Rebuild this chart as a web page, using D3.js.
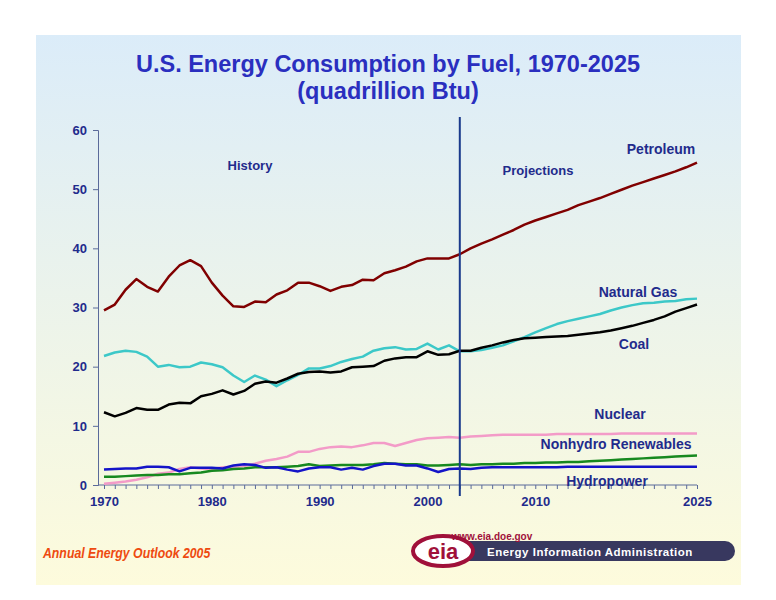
<!DOCTYPE html>
<html><head><meta charset="utf-8">
<script src="https://cdn.jsdelivr.net/npm/d3@7"></script>
<style>body{margin:0;background:#fff;font-family:"Liberation Sans",Arial,sans-serif;}</style>
</head><body>
<div id="chart"></div>
<script>
var years = d3.range(1970, 2026);
var petroleum = [29.5,30.5,33,34.8,33.5,32.7,35.2,37.1,38,37,34.2,32,30.2,30.1,31,30.9,32.2,32.9,34.2,34.2,33.6,32.8,33.5,33.8,34.7,34.6,35.8,36.3,36.9,37.8,38.3,38.3,38.3,39.0,
  40.0,40.8,41.5,42.3,43.1,44.0,44.7,45.3,45.9,46.5,47.3,47.9,48.5,49.2,49.9,50.6,51.2,51.8,52.4,53.0,53.7,54.5];
var naturalGas = [21.8,22.4,22.7,22.5,21.7,20.0,20.3,19.9,20.0,20.7,20.4,19.9,18.5,17.4,18.5,17.8,16.7,17.7,18.6,19.7,19.7,20.1,20.8,21.3,21.7,22.7,23.1,23.3,22.9,23.0,23.9,22.9,23.6,22.6,
  22.6,22.8,23.2,23.6,24.3,25.0,25.8,26.5,27.2,27.7,28.1,28.5,28.9,29.5,30.0,30.4,30.7,30.8,31.0,31.1,31.4,31.5];
var coal = [12.3,11.6,12.2,13.0,12.7,12.7,13.6,13.9,13.8,15.0,15.4,16.0,15.3,15.9,17.1,17.5,17.3,18.0,18.8,19.1,19.2,19.0,19.2,19.9,20.0,20.1,21.0,21.4,21.6,21.6,22.6,22.0,22.1,22.7,
  22.7,23.2,23.6,24.1,24.5,24.8,24.9,25.0,25.1,25.2,25.4,25.6,25.8,26.1,26.5,26.9,27.4,27.9,28.5,29.3,29.9,30.5];
var nuclear = [0.2,0.4,0.6,0.9,1.3,1.9,2.1,2.7,3.0,2.8,2.7,3.0,3.1,3.2,3.6,4.1,4.4,4.8,5.6,5.6,6.1,6.4,6.5,6.4,6.7,7.1,7.1,6.6,7.1,7.6,7.9,8.0,8.1,8.0,
  8.2,8.3,8.4,8.5,8.5,8.5,8.5,8.5,8.6,8.6,8.6,8.6,8.6,8.6,8.7,8.7,8.7,8.7,8.7,8.7,8.7,8.7];
var renewables = [1.4,1.4,1.5,1.6,1.7,1.7,1.8,1.8,2.0,2.1,2.4,2.5,2.7,2.8,3.0,3.0,3.0,3.1,3.2,3.5,3.2,3.3,3.4,3.4,3.4,3.5,3.7,3.6,3.5,3.5,3.3,3.3,3.4,3.5,
  3.4,3.5,3.5,3.6,3.6,3.7,3.7,3.8,3.8,3.9,3.9,4.0,4.1,4.2,4.3,4.4,4.5,4.6,4.7,4.8,4.9,5.0];
var hydropower = [2.6,2.7,2.8,2.8,3.1,3.1,3.0,2.3,2.9,2.9,2.9,2.8,3.3,3.5,3.4,2.9,3.0,2.6,2.3,2.8,3.0,3.0,2.6,2.9,2.6,3.2,3.6,3.6,3.3,3.3,2.8,2.2,2.7,2.8,
  2.7,2.9,3.0,3.0,3.0,3.0,3.0,3.0,3.0,3.1,3.1,3.1,3.1,3.1,3.1,3.1,3.1,3.1,3.1,3.1,3.1,3.1];
var xTicks = [1970,1980,1990,2000,2010,2025];
var yTicks = [0,10,20,30,40,50,60];

var W = 776, H = 600;
var svg = d3.select("#chart").append("svg").attr("width", W).attr("height", H);

var grad = svg.append("defs").append("linearGradient").attr("id","bg")
    .attr("x1",0).attr("y1",0).attr("x2",0).attr("y2",1);
grad.append("stop").attr("offset","0%").attr("stop-color","#dbecf9");
grad.append("stop").attr("offset","100%").attr("stop-color","#fdfbdc");
svg.append("rect").attr("x",36).attr("y",35).attr("width",705).attr("height",550).attr("fill","url(#bg)");

var x = d3.scaleLinear().domain([1970,2025]).range([104,697]);
var y = d3.scaleLinear().domain([0,60]).range([485,130]);
var navy = "#1f2b8c";

svg.append("text").attr("x",388).attr("y",72).attr("text-anchor","middle")
    .attr("font-size",23.5).attr("font-weight","bold").attr("fill","#2a2fbf").text("U.S. Energy Consumption by Fuel, 1970-2025");
svg.append("text").attr("x",388).attr("y",99).attr("text-anchor","middle")
    .attr("font-size",23.5).attr("font-weight","bold").attr("fill","#2a2fbf").text("(quadrillion Btu)");

// axes
var yAxis = svg.append("g").attr("transform","translate(98,0)")
    .call(d3.axisLeft(y).tickValues(yTicks).tickSize(5).tickPadding(6));
yAxis.select(".domain").attr("stroke","#5a6a9a");
yAxis.selectAll("line").attr("stroke","#5a6a9a");
yAxis.selectAll("text").attr("font-size",13).attr("font-weight","bold").attr("fill",navy).attr("font-family","Liberation Sans");

var xAxis = svg.append("g").attr("transform","translate(0,485)")
    .call(d3.axisBottom(x).tickValues(years).tickSize(4).tickFormat(function(d){return xTicks.indexOf(d)>=0 ? d : "";}).tickPadding(8));
xAxis.select(".domain").attr("stroke","#5a6a9a").attr("d","M98,0H697");
xAxis.selectAll("line").attr("stroke","#5a6a9a");
xAxis.selectAll("text").attr("font-size",13).attr("font-weight","bold").attr("fill",navy).attr("font-family","Liberation Sans");

var line = d3.line().x(function(d,i){return x(years[i]);}).y(function(d){return y(d);});
var series = [
  {data: nuclear, color: "#f39bc8"},
  {data: renewables, color: "#17891f"},
  {data: hydropower, color: "#1414c8"},
  {data: naturalGas, color: "#3cc8c8"},
  {data: coal, color: "#000000"},
  {data: petroleum, color: "#800000"}
];
series.forEach(function(s){
  svg.append("path").datum(s.data).attr("d",line).attr("fill","none")
     .attr("stroke",s.color).attr("stroke-width",2.5).attr("stroke-linejoin","round");
});

svg.append("line").attr("x1",x(2003)).attr("x2",x(2003)).attr("y1",117).attr("y2",496)
    .attr("stroke","#1a3a8c").attr("stroke-width",2);

var labels = [
  ["History",250,170],["Projections",538,175],["Petroleum",661,154],["Natural Gas",638,297],
  ["Coal",634,349],["Nuclear",620,419],["Nonhydro Renewables",616,449],["Hydropower",607,486]
];
labels.forEach(function(l){
  svg.append("text").attr("x",l[1]).attr("y",l[2]).attr("text-anchor","middle")
     .attr("font-size",l[0]=="History"||l[0]=="Projections"?13:14).attr("font-weight","bold").attr("fill",navy).text(l[0]);
});

// footer
svg.append("text").attr("x",43).attr("y",558).attr("font-size",15).attr("font-style","italic").attr("font-weight","bold")
   .attr("fill","#ee4a10").attr("transform","translate(43,0) scale(0.82,1) translate(-43,0)").text("Annual Energy Outlook 2005");
svg.append("rect").attr("x",455).attr("y",541).attr("width",280).attr("height",20).attr("rx",10).attr("fill","#38385f");
svg.append("text").attr("x",487).attr("y",556).attr("font-size",11.5).attr("font-weight","bold").attr("fill","#fff").attr("letter-spacing",0.5)
   .text("Energy Information Administration");
svg.append("ellipse").attr("cx",443).attr("cy",551).attr("rx",30).attr("ry",15).attr("fill","#fff").attr("stroke","#a0103a").attr("stroke-width",4);
svg.append("text").attr("x",443).attr("y",559).attr("text-anchor","middle").attr("font-size",22).attr("font-weight","bold").attr("fill","#a0103a").text("eia");
svg.append("text").attr("x",448).attr("y",540).attr("font-size",10).attr("font-weight","bold").attr("fill","#a0103a").text("\u2022www.eia.doe.gov");
</script>
</body></html>
